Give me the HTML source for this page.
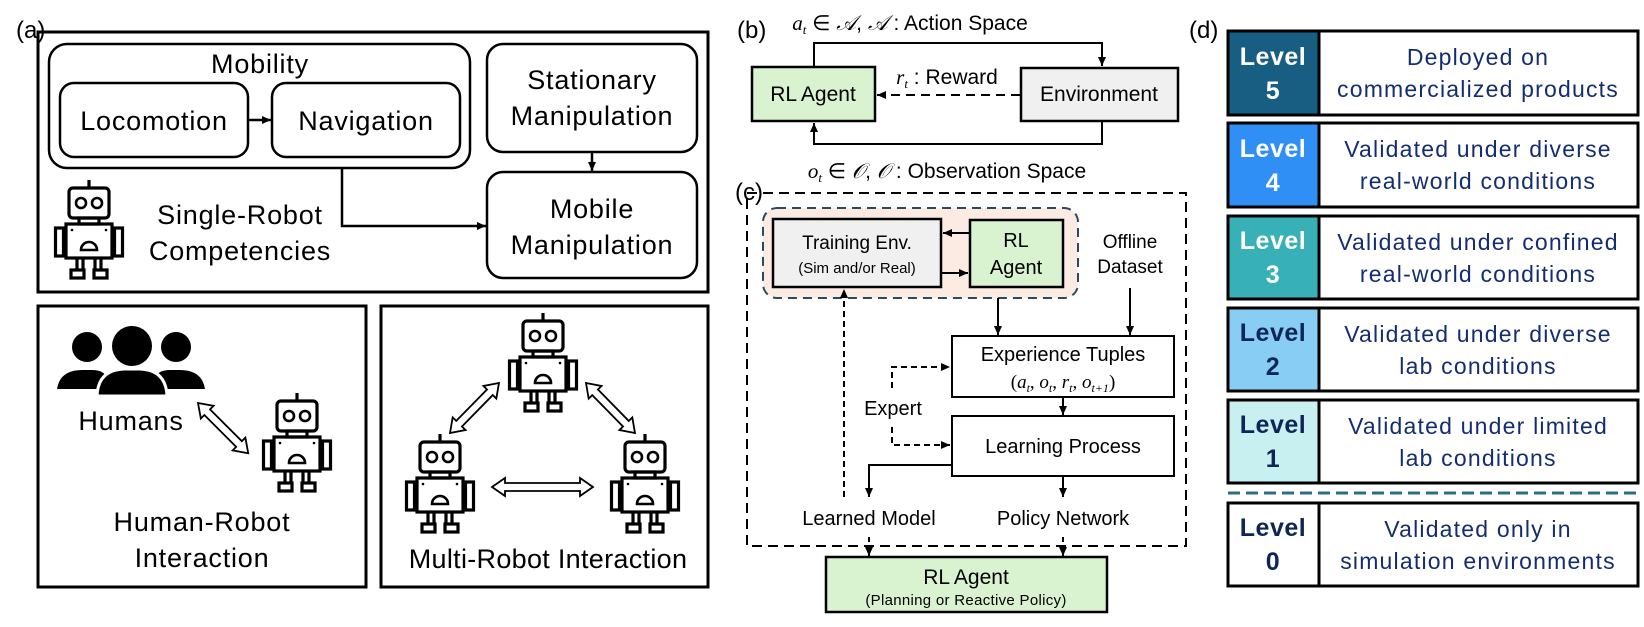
<!DOCTYPE html>
<html><head><meta charset="utf-8"><style>
html,body{margin:0;padding:0;background:#fff;}
svg{display:block;font-family:"Liberation Sans",sans-serif;}
</style></head><body>
<svg width="1644" height="627" viewBox="0 0 1644 627" xmlns="http://www.w3.org/2000/svg">
<defs>
<g id="robot" fill="none" stroke="#000" stroke-width="3.2">
  <line x1="35" y1="0" x2="35" y2="8"/>
  <rect x="15" y="8" width="40" height="30" rx="4"/>
  <circle cx="27" cy="23" r="5" stroke-width="2.6"/>
  <circle cx="43" cy="23" r="5" stroke-width="2.6"/>
  <rect x="25" y="38" width="20" height="6"/>
  <rect x="12" y="44" width="46" height="34"/>
  <path d="M27 70 A8 8 0 0 1 43 70 Z" stroke-width="2.6"/>
  <circle cx="18" cy="50" r="1.3" fill="#000" stroke="none"/>
  <circle cx="52" cy="50" r="1.3" fill="#000" stroke="none"/>
  <rect x="1.5" y="48" width="8" height="28"/>
  <line x1="9.5" y1="58" x2="12" y2="58"/>
  <rect x="60.5" y="48" width="8" height="28"/>
  <line x1="58" y1="58" x2="60.5" y2="58"/>
  <line x1="23" y1="78" x2="23" y2="90"/><line x1="29" y1="78" x2="29" y2="90"/>
  <line x1="41" y1="78" x2="41" y2="90"/><line x1="47" y1="78" x2="47" y2="90"/>
  <rect x="17" y="90" width="13" height="8"/>
  <rect x="40" y="90" width="13" height="8"/>
</g>
<marker id="ah" markerWidth="10" markerHeight="10" refX="9" refY="5" orient="auto" markerUnits="userSpaceOnUse">
  <path d="M0,1 L9,5 L0,9 Z" fill="#000"/>
</marker>
</defs>

<!-- ===== (a) ===== -->
<text x="16" y="38" font-size="24">(a)</text>
<rect x="38" y="32" width="670" height="260" fill="none" stroke="#000" stroke-width="3"/>
<rect x="49" y="44" width="421" height="124" rx="18" fill="none" stroke="#000" stroke-width="2.5"/>
<g font-size="27" text-anchor="middle" letter-spacing="0.8">
<text x="260" y="73">Mobility</text>
<text x="154" y="130">Locomotion</text>
<text x="366" y="130">Navigation</text>
<text x="592" y="89">Stationary</text>
<text x="592" y="125">Manipulation</text>
<text x="592" y="218">Mobile</text>
<text x="592" y="254">Manipulation</text>
<text x="240" y="224">Single-Robot</text>
<text x="240" y="260">Competencies</text>
<text x="131" y="430">Humans</text>
<text x="202" y="531">Human-Robot</text>
<text x="202" y="567">Interaction</text>
<text x="548" y="568" letter-spacing="0.3">Multi-Robot Interaction</text>
</g>
<rect x="60" y="83" width="188" height="74" rx="14" fill="none" stroke="#000" stroke-width="2.5"/>
<rect x="272" y="83" width="188" height="74" rx="14" fill="none" stroke="#000" stroke-width="2.5"/>
<line x1="248" y1="120" x2="271" y2="120" stroke="#000" stroke-width="2.5" marker-end="url(#ah)"/>
<rect x="487" y="44" width="210" height="108" rx="16" fill="none" stroke="#000" stroke-width="2.5"/>
<line x1="592" y1="152" x2="592" y2="171" stroke="#000" stroke-width="2.5" marker-end="url(#ah)"/>
<rect x="487" y="172" width="210" height="106" rx="16" fill="none" stroke="#000" stroke-width="2.5"/>
<polyline points="342,168 342,226 486,226" fill="none" stroke="#000" stroke-width="2.5" marker-end="url(#ah)"/>
<use href="#robot" x="54" y="180"/>

<!-- Human-robot -->
<rect x="38" y="306" width="328" height="281" fill="none" stroke="#000" stroke-width="3"/>
<g fill="#000">
  <circle cx="87" cy="347" r="15"/>
  <circle cx="176" cy="347" r="15"/>
  <path d="M57 389 Q60 370 82 370 L92 370 Q104 370 107 378 L100 389 Z"/>
  <path d="M205 389 Q202 370 180 370 L170 370 Q158 370 155 378 L162 389 Z"/>
  <circle cx="132" cy="346" r="20"/>
  <path d="M97 396 Q98 370 124 369 L140 369 Q166 370 167 396 Z" stroke="#fff" stroke-width="3"/>
</g>
<g fill="#fff" stroke="#000" stroke-width="1.8">
  <polygon transform="translate(198,403) rotate(45)" points="0,0 13,-9 13,-4 58,-4 58,-9 71,0 58,9 58,4 13,4 13,9"/>
</g>
<use href="#robot" x="262" y="393"/>

<!-- Multi-robot -->
<rect x="381" y="306" width="327" height="281" fill="none" stroke="#000" stroke-width="3"/>
<use href="#robot" x="508" y="313"/>
<use href="#robot" x="405" y="434"/>
<use href="#robot" x="610" y="434"/>
<g fill="#fff" stroke="#000" stroke-width="1.8">
  <polygon transform="translate(450,433) rotate(-45.6)" points="0,0 13,-9 13,-4 57,-4 57,-9 70,0 57,9 57,4 13,4 13,9"/>
  <polygon transform="translate(586,383) rotate(45.6)" points="0,0 13,-9 13,-4 57,-4 57,-9 70,0 57,9 57,4 13,4 13,9"/>
  <polygon transform="translate(492,487)" points="0,0 13,-9 13,-4 88,-4 88,-9 101,0 88,9 88,4 13,4 13,9"/>
</g>

<!-- ===== (b) ===== -->
<text x="737" y="38" font-size="24">(b)</text>
<text x="910" y="30" font-size="21" text-anchor="middle"><tspan font-family="Liberation Serif" font-style="italic">a</tspan><tspan font-family="Liberation Serif" font-style="italic" font-size="13" dy="4">t</tspan><tspan dy="-4"> ∈ </tspan><tspan font-family="Liberation Serif" font-style="italic">𝒜</tspan><tspan>,  </tspan><tspan font-family="Liberation Serif" font-style="italic">𝒜</tspan><tspan> : Action Space</tspan></text>
<polyline points="814,67 814,43 1102,43 1102,66" fill="none" stroke="#000" stroke-width="2" marker-end="url(#ah)"/>
<rect x="752" y="67" width="123" height="54" fill="#d9f2d0" stroke="#000" stroke-width="2.5"/>
<text x="813" y="101" font-size="21" text-anchor="middle">RL Agent</text>
<rect x="1021" y="68" width="157" height="53" fill="#f0f0f0" stroke="#000" stroke-width="2.5"/>
<text x="1099" y="101" font-size="21" text-anchor="middle">Environment</text>
<line x1="1020" y1="95" x2="877" y2="95" stroke="#000" stroke-width="2" stroke-dasharray="9,6" marker-end="url(#ah)"/>
<text x="947" y="84" font-size="21" text-anchor="middle"><tspan font-family="Liberation Serif" font-style="italic">r</tspan><tspan font-family="Liberation Serif" font-style="italic" font-size="13" dy="4">t</tspan><tspan dy="-4"> : Reward</tspan></text>
<polyline points="1102,121 1102,144 814,144 814,123" fill="none" stroke="#000" stroke-width="2" marker-end="url(#ah)"/>
<text x="947" y="178" font-size="21" text-anchor="middle"><tspan font-family="Liberation Serif" font-style="italic">o</tspan><tspan font-family="Liberation Serif" font-style="italic" font-size="13" dy="4">t</tspan><tspan dy="-4"> ∈ </tspan><tspan font-family="Liberation Serif" font-style="italic">𝒪</tspan><tspan>,  </tspan><tspan font-family="Liberation Serif" font-style="italic">𝒪</tspan><tspan> : Observation Space</tspan></text>

<!-- ===== (c) ===== -->
<text x="735" y="200" font-size="24">(c)</text>
<rect x="747" y="193" width="439" height="353" fill="none" stroke="#000" stroke-width="2" stroke-dasharray="10,6"/>
<rect x="763" y="208" width="315" height="90" rx="14" fill="#fbebe2" stroke="#2d4a5c" stroke-width="2" stroke-dasharray="9,6"/>
<rect x="773" y="219" width="168" height="68" fill="#f0f0f0" stroke="#000" stroke-width="2.5"/>
<text x="857" y="249" font-size="19" text-anchor="middle">Training Env.</text>
<text x="857" y="273" font-size="15" text-anchor="middle">(Sim and/or Real)</text>
<rect x="970" y="220" width="93" height="67" fill="#d9f2d0" stroke="#000" stroke-width="2.5"/>
<text x="1016" y="247" font-size="20" text-anchor="middle">RL</text>
<text x="1016" y="274" font-size="20" text-anchor="middle">Agent</text>
<line x1="970" y1="233" x2="943" y2="233" stroke="#000" stroke-width="2" marker-end="url(#ah)"/>
<line x1="941" y1="273" x2="968" y2="273" stroke="#000" stroke-width="2" marker-end="url(#ah)"/>
<text x="1130" y="248" font-size="19" text-anchor="middle">Offline</text>
<text x="1130" y="273" font-size="19" text-anchor="middle">Dataset</text>
<line x1="998" y1="298" x2="998" y2="335" stroke="#000" stroke-width="2" marker-end="url(#ah)"/>
<line x1="1130" y1="288" x2="1130" y2="335" stroke="#000" stroke-width="2" marker-end="url(#ah)"/>
<rect x="952" y="336" width="222" height="61" fill="#fff" stroke="#000" stroke-width="2"/>
<text x="1063" y="361" font-size="20" text-anchor="middle">Experience Tuples</text>
<text x="1063" y="388" font-size="19" text-anchor="middle" font-family="Liberation Serif"><tspan>(</tspan><tspan font-style="italic">a</tspan><tspan font-style="italic" font-size="12" dy="4">t</tspan><tspan dy="-4">, </tspan><tspan font-style="italic">o</tspan><tspan font-style="italic" font-size="12" dy="4">t</tspan><tspan dy="-4">, </tspan><tspan font-style="italic">r</tspan><tspan font-style="italic" font-size="12" dy="4">t</tspan><tspan dy="-4">, </tspan><tspan font-style="italic">o</tspan><tspan font-style="italic" font-size="12" dy="4">t+1</tspan><tspan dy="-4">)</tspan></text>
<line x1="1063" y1="397" x2="1063" y2="415" stroke="#000" stroke-width="2" marker-end="url(#ah)"/>
<rect x="952" y="416" width="222" height="60" fill="#fff" stroke="#000" stroke-width="2"/>
<text x="1063" y="453" font-size="20" text-anchor="middle">Learning Process</text>
<polyline points="892,388 892,367 950,367" fill="none" stroke="#000" stroke-width="2" stroke-dasharray="6,4" marker-end="url(#ah)"/>
<text x="893" y="415" font-size="20" text-anchor="middle">Expert</text>
<polyline points="892,427 892,445 950,445" fill="none" stroke="#000" stroke-width="2" stroke-dasharray="6,4" marker-end="url(#ah)"/>
<polyline points="952,465 869,465 869,497" fill="none" stroke="#000" stroke-width="2" marker-end="url(#ah)"/>
<line x1="1063" y1="476" x2="1063" y2="497" stroke="#000" stroke-width="2" marker-end="url(#ah)"/>
<line x1="844" y1="497" x2="844" y2="289" stroke="#000" stroke-width="2" stroke-dasharray="6,4" marker-end="url(#ah)"/>
<text x="869" y="525" font-size="20" text-anchor="middle">Learned Model</text>
<text x="1063" y="525" font-size="20" text-anchor="middle">Policy Network</text>
<line x1="869" y1="537" x2="869" y2="556" stroke="#000" stroke-width="2" stroke-dasharray="5,3" marker-end="url(#ah)"/>
<line x1="1063" y1="537" x2="1063" y2="556" stroke="#000" stroke-width="2" stroke-dasharray="5,3" marker-end="url(#ah)"/>
<rect x="826" y="557" width="281" height="55" fill="#d9f2d0" stroke="#000" stroke-width="2.5"/>
<text x="966" y="584" font-size="21" text-anchor="middle">RL Agent</text>
<text x="966" y="605" font-size="15" text-anchor="middle" letter-spacing="0.3">(Planning or Reactive Policy)</text>

<!-- ===== (d) ===== -->
<text x="1189" y="38" font-size="24">(d)</text>
<g stroke="#000" stroke-width="3">
  <rect x="1228" y="31" width="91" height="84" fill="#175e82"/>
  <rect x="1319" y="31" width="319" height="84" fill="#fff"/>
  <rect x="1228" y="123" width="91" height="84" fill="#2f8ff5"/>
  <rect x="1319" y="123" width="319" height="84" fill="#fff"/>
  <rect x="1228" y="216" width="91" height="83" fill="#37b0b8"/>
  <rect x="1319" y="216" width="319" height="83" fill="#fff"/>
  <rect x="1228" y="308" width="91" height="83" fill="#88cdf3"/>
  <rect x="1319" y="308" width="319" height="83" fill="#fff"/>
  <rect x="1228" y="400" width="91" height="83" fill="#c9f0f0"/>
  <rect x="1319" y="400" width="319" height="83" fill="#fff"/>
  <rect x="1228" y="503" width="91" height="83" fill="#fff"/>
  <rect x="1319" y="503" width="319" height="83" fill="#fff"/>
</g>
<line x1="1228" y1="493" x2="1638" y2="493" stroke="#2a6f8a" stroke-width="3" stroke-dasharray="12,6"/>
<g font-size="25" font-weight="bold" text-anchor="middle" letter-spacing="0.5">
  <text x="1273" y="65" fill="#fff">Level</text><text x="1273" y="99" fill="#fff">5</text>
  <text x="1273" y="157" fill="#fff">Level</text><text x="1273" y="191" fill="#fff">4</text>
  <text x="1273" y="249" fill="#fff">Level</text><text x="1273" y="283" fill="#fff">3</text>
  <text x="1273" y="341" fill="#0e2657">Level</text><text x="1273" y="375" fill="#0e2657">2</text>
  <text x="1273" y="433" fill="#0e2657">Level</text><text x="1273" y="467" fill="#0e2657">1</text>
  <text x="1273" y="536" fill="#0e2657">Level</text><text x="1273" y="570" fill="#0e2657">0</text>
</g>
<g font-size="23" fill="#142d6e" text-anchor="middle" letter-spacing="1.2">
  <text x="1478" y="65">Deployed on</text><text x="1478" y="97">commercialized products</text>
  <text x="1478" y="157">Validated under diverse</text><text x="1478" y="189">real-world conditions</text>
  <text x="1478" y="250">Validated under confined</text><text x="1478" y="282">real-world conditions</text>
  <text x="1478" y="342">Validated under diverse</text><text x="1478" y="374">lab conditions</text>
  <text x="1478" y="434">Validated under limited</text><text x="1478" y="466">lab conditions</text>
  <text x="1478" y="537">Validated only in</text><text x="1478" y="569">simulation environments</text>
</g>
</svg>
</body></html>
